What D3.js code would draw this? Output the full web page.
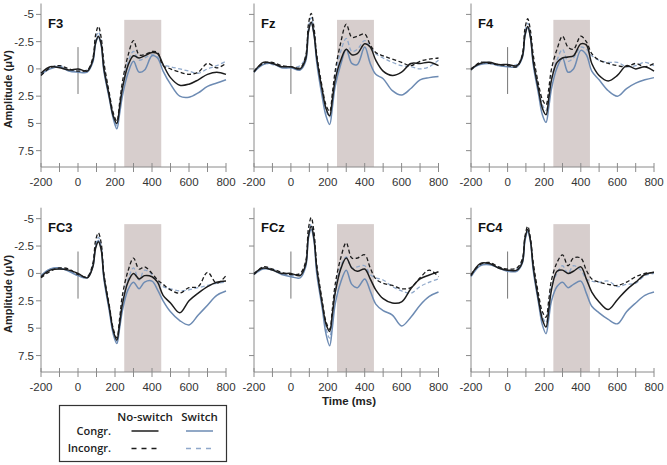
<!DOCTYPE html>
<html><head><meta charset="utf-8">
<script src="https://cdn.jsdelivr.net/npm/d3@7"></script>
<style>body{margin:0;background:#fff}svg{display:block}</style>
</head><body>
<svg id="c" width="667" height="465"></svg>
<script>
// ---------- DATA ----------
const times = [-200,-150,-100,-50,0,50,80,95,110,125,140,170,190,210,225,240,270,300,330,360,400,430,460,500,550,600,650,700,750,800];
const panelNames = ["F3","Fz","F4","FC3","FCz","FC4"];
const xTicks = [-200,-100,0,100,200,300,400,500,600,700,800];
const xTickLabels = [-200,0,200,400,600,800];
const yTicks = [-5,-2.5,0,2.5,5,7.5];
const shadeWindow = [250,450];
const legendCols = ["No-switch","Switch"];
const legendRows = ["Congr.","Incongr."];

// cn = Congr. No-switch, in = Incongr. No-switch, cs = Congr. Switch, is = Incongr. Switch
const F3_cn = [0.4,-0.2,-0.1,0.1,0.0,0.2,-0.8,-2.4,-3.0,-2.3,0.0,2.6,4.3,5.0,3.5,1.8,-0.3,-1.2,-1.0,-1.2,-1.5,-1.4,-0.4,0.8,1.5,1.4,1.0,0.5,0.3,0.5];
const F3_in = [0.6,-0.1,-0.3,0.0,0.2,0.1,-1.0,-3.1,-3.9,-2.9,-0.6,2.3,4.0,4.8,3.1,1.2,-1.2,-2.6,-1.3,-1.3,-1.6,-1.5,-0.3,0.0,0.3,0.5,0.3,-0.5,-0.1,-0.5];
const F3_cs = [0.5,0.0,-0.2,0.2,0.3,0.3,-0.6,-2.3,-2.9,-2.2,0.2,2.8,4.5,5.5,4.1,2.5,0.4,-0.7,0.3,0.1,-1.2,-1.0,0.2,1.4,2.5,2.6,2.2,1.6,1.3,1.0];
const F3_is = [0.4,-0.1,-0.3,0.1,0.2,0.1,-0.7,-2.7,-3.4,-2.6,-0.4,2.5,4.2,5.2,3.6,1.8,-0.6,-1.6,-0.8,-1.0,-1.3,-1.1,-0.4,-0.2,0.0,0.2,0.4,0.0,-0.3,-0.7];

const Fz_cn = [0.3,-0.6,-0.5,-0.2,-0.2,0.0,-0.9,-3.4,-4.3,-3.2,-1.0,2.0,3.6,4.3,2.8,1.0,-0.8,-1.8,-1.3,-1.4,-2.3,-2.0,-0.8,0.2,0.6,0.3,-0.5,-0.5,-0.6,-0.3];
const Fz_in = [0.2,-0.5,-0.6,-0.3,-0.2,-0.1,-1.2,-4.1,-5.1,-3.8,-1.3,1.7,3.3,3.9,2.2,0.2,-2.4,-4.1,-2.9,-3.0,-3.2,-2.2,-1.5,-1.2,-0.9,-0.6,-0.3,-0.7,-0.9,-1.0];
const Fz_cs = [0.3,-0.4,-0.5,-0.1,-0.1,0.1,-0.7,-3.4,-4.2,-3.2,-0.6,2.6,4.3,5.1,3.5,1.6,-0.4,-1.8,-0.5,-0.4,-2.0,-0.5,0.5,0.9,2.0,2.4,1.8,1.0,0.8,0.7];
const Fz_is = [0.2,-0.5,-0.4,-0.2,-0.1,-0.3,-1.1,-3.8,-4.7,-3.5,-1.1,2.0,3.8,4.4,2.6,0.6,-1.6,-2.8,-1.6,-1.8,-2.6,-2.0,-1.4,-1.0,-0.6,-0.3,-0.2,0.0,-0.2,-0.8];

const F4_cn = [0.0,-0.5,-0.6,-0.4,-0.4,-0.3,-1.1,-3.1,-3.9,-2.9,-0.7,2.0,3.6,4.2,2.7,1.0,-0.6,-1.0,-1.1,-1.2,-2.3,-2.2,-0.5,0.6,1.1,0.6,-0.3,0.0,-0.2,0.2];
const F4_in = [0.1,-0.6,-0.5,-0.4,-0.3,-0.2,-1.3,-3.7,-4.6,-3.5,-1.3,1.5,2.8,3.3,1.8,0.0,-1.8,-3.0,-2.0,-1.8,-3.0,-2.5,-1.4,-0.8,-0.5,-0.3,-0.2,-0.5,-0.2,-0.5];
const F4_cs = [0.0,-0.4,-0.5,-0.3,-0.2,-0.2,-1.0,-3.0,-3.8,-2.9,-0.4,2.4,4.2,4.9,3.5,1.8,-0.1,-1.0,0.3,0.0,-1.7,-1.3,0.2,1.0,2.0,2.5,1.8,1.3,1.0,0.8];
const F4_is = [0.1,-0.5,-0.6,-0.3,-0.3,-0.4,-1.2,-3.4,-4.2,-3.2,-0.9,1.9,3.3,3.8,2.4,0.8,-0.8,-1.8,-0.7,-1.0,-2.0,-1.8,-1.2,-0.8,-0.6,-0.6,-0.2,-0.3,-0.6,-0.3];

const FC3_cn = [0.3,-0.3,-0.4,-0.3,0.0,0.4,-0.6,-2.3,-2.9,-2.2,0.3,3.2,5.2,6.1,4.6,2.8,0.8,0.0,0.5,0.2,0.3,0.8,2.0,2.7,3.6,2.5,1.8,1.2,0.8,0.7];
const FC3_in = [0.4,-0.2,-0.5,-0.4,0.1,0.3,-0.9,-3.0,-3.7,-2.8,0.0,3.0,5.0,5.9,4.1,2.0,-0.2,-1.4,-0.4,-0.6,0.0,0.6,1.0,1.5,1.8,1.3,1.2,-0.1,0.9,0.2];
const FC3_cs = [0.2,-0.4,-0.5,-0.2,0.2,0.4,-0.6,-2.4,-3.0,-2.3,0.5,3.5,5.5,6.4,5.0,3.4,1.5,0.8,1.4,0.8,0.7,1.5,2.5,3.5,4.3,4.7,3.8,2.9,2.0,1.6];
const FC3_is = [0.3,-0.4,-0.4,-0.3,0.2,0.3,-0.8,-2.6,-3.3,-2.5,0.2,3.3,5.3,6.2,4.5,2.6,0.6,-0.5,0.6,-0.3,0.1,0.8,1.2,1.4,1.6,1.5,1.3,1.1,0.9,0.8];

const FCz_cn = [0.0,-0.5,-0.3,0.0,0.0,0.2,-0.8,-3.4,-4.3,-3.2,-0.5,2.8,4.6,5.3,3.7,1.8,-0.4,-1.4,-0.5,-0.2,-0.4,0.5,1.5,2.3,2.7,2.6,1.4,0.5,0.15,-0.15];
const FCz_in = [0.1,-0.6,-0.4,-0.1,0.1,0.0,-1.1,-4.1,-5.1,-3.8,-0.8,2.5,4.4,5.1,3.2,1.0,-1.4,-2.8,-1.4,-1.4,-1.7,-0.5,0.5,0.9,1.1,1.4,1.3,0.4,-0.3,0.3];
const FCz_cs = [0.1,-0.4,-0.3,0.1,0.3,0.4,-0.6,-3.2,-4.0,-3.0,0.0,3.2,5.5,6.6,4.9,2.8,0.8,-0.3,1.0,1.3,0.5,1.6,2.8,3.4,3.8,4.8,4.0,2.9,2.1,1.7];
const FCz_is = [0.0,-0.5,-0.4,0.0,0.2,0.1,-0.9,-3.6,-4.5,-3.4,-0.6,2.9,5.0,5.9,3.9,1.6,-0.6,-1.5,-0.5,-0.6,-0.7,0.1,0.4,0.6,1.2,1.6,1.8,1.2,0.8,0.5];

const FC4_cn = [0.2,-0.9,-0.9,-0.5,-0.3,-0.3,-1.0,-3.2,-4.0,-3.0,-0.6,2.5,4.2,4.9,3.3,1.5,-0.2,-0.3,0.0,-0.2,-0.6,0.5,1.7,2.6,3.3,2.4,1.5,0.8,0.1,-0.1];
const FC4_in = [0.1,-0.8,-1.0,-0.6,-0.4,-0.5,-1.3,-3.4,-4.3,-3.2,-1.0,2.0,3.5,4.0,2.4,0.6,-1.0,-1.7,-0.7,-1.4,-1.4,-0.3,0.5,0.8,1.0,1.1,0.8,0.3,0.0,-0.1];
const FC4_cs = [0.3,-0.7,-0.8,-0.5,-0.2,-0.2,-0.9,-3.0,-3.8,-2.9,-0.3,2.8,4.7,5.5,4.1,2.5,1.2,0.8,1.3,1.0,0.7,1.8,3.0,3.6,4.2,4.6,3.5,2.7,2.0,1.7];
const FC4_is = [0.2,-0.8,-0.9,-0.6,-0.3,-0.4,-1.2,-3.1,-3.9,-2.9,-0.7,2.3,3.9,4.5,3.0,1.2,0.0,-0.7,0.0,-0.7,-0.3,0.5,0.7,0.8,0.7,1.2,1.0,0.9,0.2,0.0];

const panelSeries = [
  [F3_cn, F3_in, F3_cs, F3_is],
  [Fz_cn, Fz_in, Fz_cs, Fz_is],
  [F4_cn, F4_in, F4_cs, F4_is],
  [FC3_cn, FC3_in, FC3_cs, FC3_is],
  [FCz_cn, FCz_in, FCz_cs, FCz_is],
  [FC4_cn, FC4_in, FC4_cs, FC4_is]
];

// ---------- LAYOUT / STYLE ----------
const cols = [[41,226],[254,438.5],[471,654]];
const rows = [[3.5,167],[207.7,372]];
const styles = [
  {stroke:"#1c1c1c", width:1.5, dash:null},      // Congr No-switch
  {stroke:"#1c1c1c", width:1.3, dash:"4,2.5"},   // Incongr No-switch
  {stroke:"#6d8bb3", width:1.5, dash:null},      // Congr Switch
  {stroke:"#8fa8ca", width:1.3, dash:"4,2.5"}    // Incongr Switch
];
const drawOrder = [3,2,1,0];
const axisColor = "#8a8a8a";
const font = "'Liberation Sans', Arial, sans-serif";

const svg = d3.select("#c");

panelNames.forEach((name, pi) => {
  const c = cols[pi % 3], r = rows[Math.floor(pi / 3)];
  const x = d3.scaleLinear().domain([-200, 800]).range(c);
  const y = d3.scaleLinear().domain([-6, 9]).range(r);
  const g = svg.append("g");

  g.append("rect")
    .attr("x", x(shadeWindow[0])).attr("width", x(shadeWindow[1]) - x(shadeWindow[0]))
    .attr("y", y(-4.5)).attr("height", y(9) - y(-4.5))
    .attr("fill", "#d7cecd");

  g.append("line").attr("x1", x(-200)).attr("x2", x(-200)).attr("y1", y(-6)).attr("y2", y(9))
    .attr("stroke", axisColor).attr("stroke-width", 1);
  g.append("line").attr("x1", x(-200)).attr("x2", x(800)).attr("y1", y(9)).attr("y2", y(9))
    .attr("stroke", axisColor).attr("stroke-width", 1);

  g.selectAll(".yt").data(yTicks).enter().append("line")
    .attr("x1", x(-200) - 5).attr("x2", x(-200))
    .attr("y1", d => y(d)).attr("y2", d => y(d))
    .attr("stroke", axisColor).attr("stroke-width", 1);
  if (pi % 3 === 0) {
    g.selectAll(".yl").data(yTicks).enter().append("text")
      .attr("x", x(-200) - 7).attr("y", d => y(d) + 4)
      .attr("text-anchor", "end").attr("font-family", font).attr("font-size", 11.5)
      .attr("fill", "#333").text(d => String(d));
  }
  g.selectAll(".xt").data(xTicks).enter().append("line")
    .attr("x1", d => x(d)).attr("x2", d => x(d))
    .attr("y1", y(9) - 4).attr("y2", y(9) + 5)
    .attr("stroke", axisColor).attr("stroke-width", 1);
  g.selectAll(".xl").data(xTickLabels).enter().append("text")
    .attr("x", d => x(d)).attr("y", y(9) + 19)
    .attr("text-anchor", "middle").attr("font-family", font).attr("font-size", 11.5)
    .attr("fill", "#333").text(d => String(d));

  g.append("line").attr("x1", x(0)).attr("x2", x(0)).attr("y1", y(-2)).attr("y2", y(2.3))
    .attr("stroke", "#777").attr("stroke-width", 1);

  const line = d3.line().x((d, i) => x(times[i])).y(d => y(d)).curve(d3.curveCatmullRom.alpha(0.5));
  drawOrder.forEach(si => {
    const s = styles[si];
    g.append("path").attr("d", line(panelSeries[pi][si]))
      .attr("fill", "none").attr("stroke", s.stroke).attr("stroke-width", s.width)
      .attr("stroke-dasharray", s.dash).attr("stroke-linejoin", "round");
  });

  g.append("text").attr("x", x(-200) + 7).attr("y", r[0] + 24)
    .attr("font-family", font).attr("font-weight", "bold").attr("font-size", 13)
    .attr("fill", "#111").text(name);
});

rows.forEach(r => {
  const cy = (r[0] + r[1]) / 2 + 4;
  svg.append("text").attr("transform", `translate(12,${cy}) rotate(-90)`)
    .attr("text-anchor", "middle").attr("font-family", font).attr("font-weight", "bold")
    .attr("font-size", 11).attr("fill", "#222").text("Amplitude (μV)");
});

svg.append("text").attr("x", 349).attr("y", 405).attr("text-anchor", "middle")
  .attr("font-family", font).attr("font-weight", "bold").attr("font-size", 11.5)
  .attr("fill", "#222").text("Time (ms)");

const lg = svg.append("g");
const lfont = "'Open Sans', sans-serif";
lg.append("rect").attr("x", 59.5).attr("y", 405.5).attr("width", 167).attr("height", 56)
  .attr("fill", "#fff").attr("stroke", "#333").attr("stroke-width", 1.2);
const colX = [145, 199.5];
legendCols.forEach((t, i) => lg.append("text").attr("x", colX[i]).attr("y", 421)
  .attr("text-anchor", "middle").attr("font-family", lfont).attr("font-weight", 600)
  .attr("font-size", 11.5).attr("fill", "#222").text(t));
const rowY = [431, 448.5];
legendRows.forEach((t, i) => lg.append("text").attr("x", 111).attr("y", rowY[i] + 3.5)
  .attr("text-anchor", "end").attr("font-family", lfont).attr("font-weight", 600)
  .attr("font-size", 11).attr("fill", "#222").text(t));
const legendMap = [[0,0,0],[1,1,0],[2,0,1],[3,1,1]];
legendMap.forEach(([si, ri, ci]) => {
  const s = styles[si];
  lg.append("line").attr("x1", colX[ci] - 13.5).attr("x2", colX[ci] + 13.5)
    .attr("y1", rowY[ri]).attr("y2", rowY[ri])
    .attr("stroke", s.stroke).attr("stroke-width", 1.5)
    .attr("stroke-dasharray", s.dash ? "5,5" : null);
});
</script>
</body></html>
